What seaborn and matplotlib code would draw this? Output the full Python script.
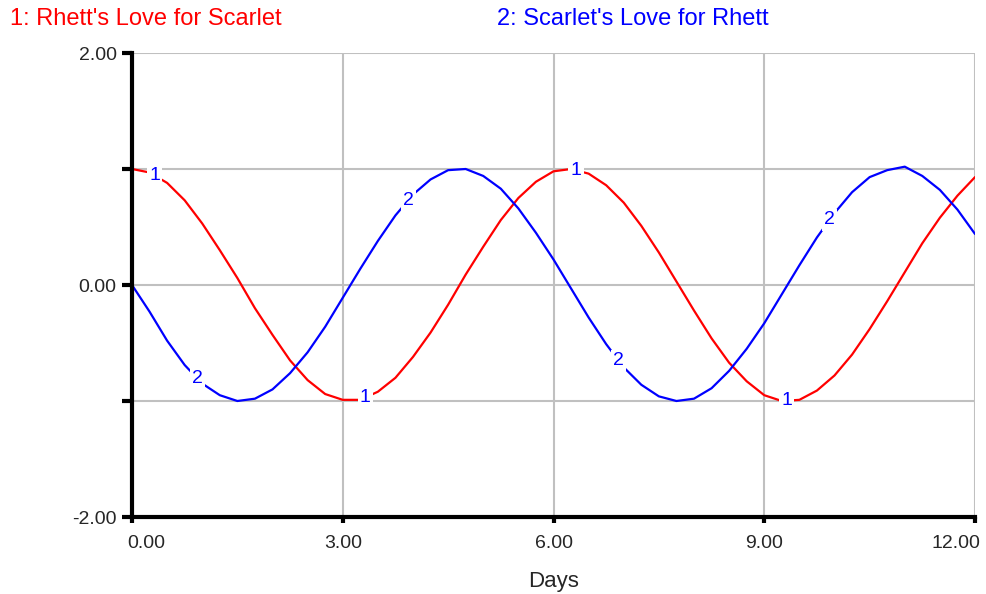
import numpy as np
import pandas as pd
import matplotlib
matplotlib.use('Agg')
import matplotlib.pyplot as plt
import matplotlib.transforms as mtransforms
import seaborn as sns

days = [i * 0.25 for i in range(49)]

rhett = [1.00, 0.97, 0.88, 0.73, 0.53, 0.30, 0.06, -0.20, -0.43, -0.65, -0.82, -0.94,
         -0.99, -0.99, -0.92, -0.80, -0.62, -0.41, -0.17, 0.09, 0.33, 0.56, 0.75, 0.89,
         0.98, 1.00, 0.96, 0.86, 0.71, 0.51, 0.28, 0.03, -0.22, -0.46, -0.67, -0.83,
         -0.95, -1.00, -0.99, -0.91, -0.78, -0.60, -0.38, -0.14, 0.11, 0.36, 0.58, 0.77,
         0.93]

scarlet = [0.00, -0.23, -0.48, -0.69, -0.85, -0.95, -1.00, -0.98, -0.90, -0.76, -0.58,
           -0.36, -0.11, 0.14, 0.38, 0.60, 0.78, 0.91, 0.99, 1.00, 0.94, 0.83, 0.66,
           0.45, 0.22, -0.03, -0.28, -0.51, -0.71, -0.86, -0.96, -1.00, -0.98, -0.89,
           -0.74, -0.55, -0.33, -0.08, 0.17, 0.41, 0.62, 0.80, 0.93, 0.99, 1.02, 0.94,
           0.82, 0.65, 0.44]

red_label_days = [0.32, 3.32, 6.32, 9.32]
blue_label_days = [0.93, 3.93, 6.93, 9.93]

x_ticks = [0, 3, 6, 9, 12]
y_ticks = [-2, -1, 0, 1, 2]
y_tick_labels = ['-2.00', '', '0.00', '', '2.00']

sns.set_style('white')
plt.rcParams['font.family'] = ['Liberation Sans', 'DejaVu Sans']

df = pd.DataFrame({'Days': days, 'Rhett': rhett, 'Scarlet': scarlet})

fig = plt.figure(figsize=(9.86, 5.94), dpi=100)
ax = fig.add_axes([132 / 986, 1 - 517 / 594, (975 - 132) / 986, (517 - 53) / 594])

sns.lineplot(data=df, x='Days', y='Rhett', color='#ff0000', lw=1.6, ax=ax, zorder=3)
sns.lineplot(data=df, x='Days', y='Scarlet', color='#0000ff', lw=1.6, ax=ax, zorder=3)

# line number labels (Stella style, all drawn in blue)
for d in red_label_days:
    ax.text(d, np.interp(d, days, rhett), '1', color='#0000ff', fontsize=14,
            ha='center', va='center', zorder=4,
            bbox=dict(facecolor='white', edgecolor='none', pad=1.5))
for d in blue_label_days:
    ax.text(d, np.interp(d, days, scarlet), '2', color='#0000ff', fontsize=14,
            ha='center', va='center', zorder=4,
            bbox=dict(facecolor='white', edgecolor='none', pad=1.5))

ax.set_xlim(0, 12)
ax.set_ylim(-2, 2)
ax.set_xticks(x_ticks)
ax.set_xticklabels(['%.2f' % v for v in x_ticks])
ax.set_yticks(y_ticks)
ax.set_yticklabels(y_tick_labels)

ax.grid(True, color='#c0c0c0', lw=1.5, zorder=0)
ax.set_axisbelow(True)

for s in ['top', 'right']:
    ax.spines[s].set_visible(False)
for s in ['left', 'bottom']:
    ax.spines[s].set_color('black')
    ax.spines[s].set_linewidth(3)
    ax.spines[s].set_zorder(5)

ax.tick_params(axis='y', direction='out', length=7, width=3, color='black',
               labelsize=14, pad=4, left=True)
ax.tick_params(axis='x', direction='out', length=4, width=3, color='black',
               labelsize=14, pad=9, bottom=True)

labels = ax.get_xticklabels()
labels[0].set_horizontalalignment('left')
labels[0].set_transform(labels[0].get_transform() +
                        mtransforms.ScaledTranslation(-5 / 100, 0, fig.dpi_scale_trans))
labels[-1].set_horizontalalignment('right')
labels[-1].set_transform(labels[-1].get_transform() +
                         mtransforms.ScaledTranslation(5 / 100, 0, fig.dpi_scale_trans))

ax.set_xlabel('Days', fontsize=16, labelpad=14)
ax.set_ylabel('')

fig.text(10 / 986, 1 - 19 / 594, "1: Rhett's Love for Scarlet", color='#ff0000',
         fontsize=17, ha='left', va='center')
fig.text(497 / 986, 1 - 19 / 594, "2: Scarlet's Love for Rhett", color='#0000ff',
         fontsize=17, ha='left', va='center')

fig.savefig('out.png', dpi=100)
